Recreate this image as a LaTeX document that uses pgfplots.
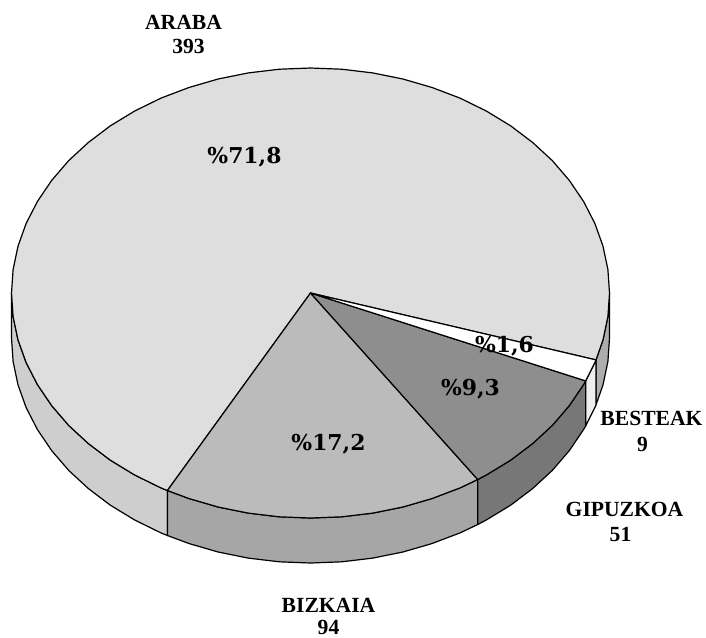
\documentclass[border=0pt]{standalone}
\usepackage{fontspec}
\setmainfont{Liberation Serif}
\newfontfamily\pctfont{DejaVu Serif}
\usepackage{pgfplots}
\pgfplotsset{compat=1.18}
\definecolor{aratop}{HTML}{DEDEDE}
\definecolor{araside}{HTML}{CECECE}
\definecolor{arardk}{HTML}{ADADAD}
\definecolor{biztop}{HTML}{BBBBBB}
\definecolor{bizside}{HTML}{A6A6A6}
\definecolor{giptop}{HTML}{8E8E8E}
\definecolor{gipside}{HTML}{777777}
\definecolor{besside}{HTML}{EEEEEE}
\newcommand{\lab}[1]{\fontsize{16.2}{20}\selectfont\bfseries #1}
\newcommand{\pct}[1]{\fontsize{16.4}{20}\selectfont\pctfont\bfseries #1}
\begin{document}
\begin{tikzpicture}
\begin{axis}[
  x=0.75pt, y=0.75pt,
  xmin=-0.5, xmax=705.5, ymin=0, ymax=637,
  y dir=reverse,
  hide axis,
  clip=false,
  every axis plot/.append style={draw=black, line width=0.9pt, line join=round},
]
\path[use as bounding box] (rel axis cs:0,0) rectangle (rel axis cs:1,1);
% side walls
\addplot[fill=araside] coordinates {
  (166.9,490.5)(160.5,487.9)(134.2,475)(109.9,460.2)(87.8,443.5)(68.1,425.3)
  (51.1,405.5)(36.9,384.5)(25.6,362.5)(17.5,339.8)(12.6,316.5)(11,293)
  (11,338)(12.6,361.5)(17.5,384.8)(25.6,407.5)(36.9,429.5)(51.1,450.5)
  (68.1,470.3)(87.8,488.5)(109.9,505.2)(134.2,520)(160.5,532.9)(166.9,535.5)
} -- cycle;
\addplot[fill=arardk] coordinates {
  (609,293)(607.4,316.5)(602.5,339.8)(595.5,359.9)
  (595.5,404.9)(602.5,384.8)(607.4,361.5)(609,338)
} -- cycle;
\addplot[fill=bizside] coordinates {
  (477.2,479.5)(459.5,487.9)(431.6,498.5)(402.4,507)(372.2,513.1)(341.2,516.8)
  (310,518)(278.8,516.8)(247.8,513.1)(217.6,507)(188.4,498.5)(166.9,490.5)
  (166.9,535.5)(188.4,543.5)(217.6,552)(247.8,558.1)(278.8,561.8)(310,563)
  (341.2,561.8)(372.2,558.1)(402.4,552)(431.6,543.5)(459.5,532.9)(477.2,524.5)
} -- cycle;
\addplot[fill=gipside] coordinates {
  (585.2,380.9)(583.1,384.5)(568.9,405.5)(551.9,425.3)(532.2,443.5)(510.1,460.2)
  (485.8,475)(477.2,479.5)
  (477.2,524.5)(485.8,520)(510.1,505.2)(532.2,488.5)(551.9,470.3)(568.9,450.5)
  (583.1,429.5)(585.2,425.9)
} -- cycle;
\addplot[fill=besside] coordinates {
  (595.5,359.9)(594.4,362.5)(585.2,380.9)
  (585.2,425.9)(594.4,407.5)(595.5,404.9)
} -- cycle;
% top faces
\addplot[fill=aratop] coordinates {
  (310,293)(595.5,359.9)(602.5,339.8)(607.4,316.5)(609,293)
  (607.4,269.5)(602.5,246.2)(594.4,223.5)(583.1,201.5)(568.9,180.5)(551.9,160.7)
  (532.2,142.5)(510.1,125.8)(485.8,111)(459.5,98.1)(431.6,87.5)(402.4,79)
  (372.2,72.9)(341.2,69.2)(310,68)(278.8,69.2)(247.8,72.9)(217.6,79)
  (188.4,87.5)(160.5,98.1)(134.2,111)(109.9,125.8)(87.8,142.5)(68.1,160.7)
  (51.1,180.5)(36.9,201.5)(25.6,223.5)(17.5,246.2)(12.6,269.5)(11,293)
  (12.6,316.5)(17.5,339.8)(25.6,362.5)(36.9,384.5)(51.1,405.5)(68.1,425.3)
  (87.8,443.5)(109.9,460.2)(134.2,475)(160.5,487.9)(166.9,490.5)
} -- cycle;
\addplot[fill=biztop] coordinates {
  (310,293)(477.2,479.5)(459.5,487.9)(431.6,498.5)(402.4,507)(372.2,513.1)
  (341.2,516.8)(310,518)(278.8,516.8)(247.8,513.1)(217.6,507)(188.4,498.5)
  (166.9,490.5)
} -- cycle;
\addplot[fill=giptop] coordinates {
  (310,293)(585.2,380.9)(583.1,384.5)(568.9,405.5)(551.9,425.3)(532.2,443.5)
  (510.1,460.2)(485.8,475)(477.2,479.5)
} -- cycle;
\addplot[fill=white] coordinates {
  (310,293)(595.5,359.9)(594.4,362.5)(585.2,380.9)
} -- cycle;
% labels
\node[anchor=base] at (axis cs:183,29) {\lab{ARABA}};
\node[anchor=base] at (axis cs:188,53.5) {\lab{393}};
\node[anchor=base] at (axis cs:328,612) {\lab{BIZKAIA}};
\node[anchor=base] at (axis cs:328,634.5) {\lab{94}};
\node[anchor=base] at (axis cs:651,425.5) {\lab{BESTEAK}};
\node[anchor=base] at (axis cs:642,451.5) {\lab{9}};
\node[anchor=base] at (axis cs:624,516.5) {\lab{GIPUZKOA}};
\node[anchor=base] at (axis cs:620,541) {\lab{51}};
\node[anchor=base] at (axis cs:244,163) {\pct{\%71,8}};
\node[anchor=base] at (axis cs:328,450) {\pct{\%17,2}};
\node[anchor=base] at (axis cs:470,395) {\pct{\%9,3}};
\node[anchor=base] at (axis cs:504,352) {\pct{\%1,6}};
\end{axis}
\end{tikzpicture}
\end{document}
